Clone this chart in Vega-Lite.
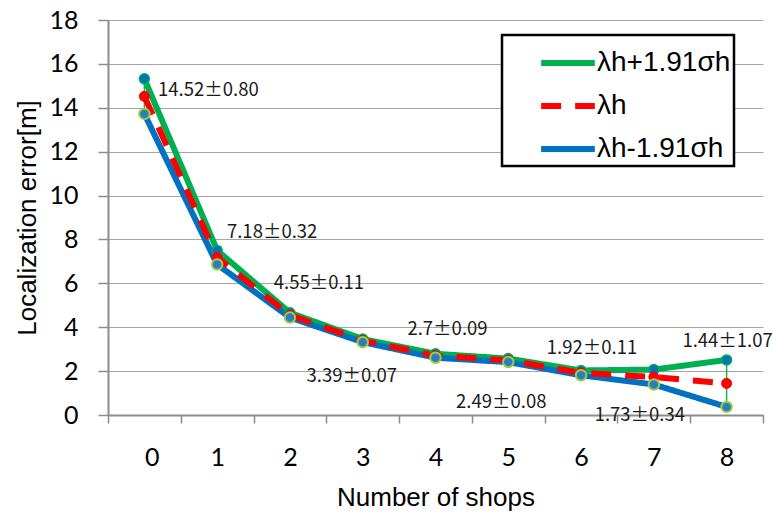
{
  "$schema": "https://vega.github.io/schema/vega-lite/v6.json",
  "width": 655,
  "height": 395,
  "autosize": "none",
  "padding": {"left": 108, "top": 20, "right": 10, "bottom": 98},
  "background": "white",
  "datasets": {
    "lines": [
      {"shops": 0, "series": "λh+1.91σh", "value": 15.32},
      {"shops": 1, "series": "λh+1.91σh", "value": 7.50},
      {"shops": 2, "series": "λh+1.91σh", "value": 4.66},
      {"shops": 3, "series": "λh+1.91σh", "value": 3.46},
      {"shops": 4, "series": "λh+1.91σh", "value": 2.79},
      {"shops": 5, "series": "λh+1.91σh", "value": 2.57},
      {"shops": 6, "series": "λh+1.91σh", "value": 2.03},
      {"shops": 7, "series": "λh+1.91σh", "value": 2.07},
      {"shops": 8, "series": "λh+1.91σh", "value": 2.51},
      {"shops": 0, "series": "λh-1.91σh", "value": 13.72},
      {"shops": 1, "series": "λh-1.91σh", "value": 6.86},
      {"shops": 2, "series": "λh-1.91σh", "value": 4.44},
      {"shops": 3, "series": "λh-1.91σh", "value": 3.32},
      {"shops": 4, "series": "λh-1.91σh", "value": 2.61},
      {"shops": 5, "series": "λh-1.91σh", "value": 2.41},
      {"shops": 6, "series": "λh-1.91σh", "value": 1.81},
      {"shops": 7, "series": "λh-1.91σh", "value": 1.39},
      {"shops": 8, "series": "λh-1.91σh", "value": 0.37},
      {"shops": 0, "series": "λh", "value": 14.52},
      {"shops": 1, "series": "λh", "value": 7.18},
      {"shops": 2, "series": "λh", "value": 4.55},
      {"shops": 3, "series": "λh", "value": 3.39},
      {"shops": 4, "series": "λh", "value": 2.70},
      {"shops": 5, "series": "λh", "value": 2.49},
      {"shops": 6, "series": "λh", "value": 1.92},
      {"shops": 7, "series": "λh", "value": 1.73},
      {"shops": 8, "series": "λh", "value": 1.44}
    ],
    "stats": [
      {"shops": 0, "mean": 14.52, "lower": 13.72, "upper": 15.32, "label": "14.52±0.80"},
      {"shops": 1, "mean": 7.18, "lower": 6.86, "upper": 7.50, "label": "7.18±0.32"},
      {"shops": 2, "mean": 4.55, "lower": 4.44, "upper": 4.66, "label": "4.55±0.11"},
      {"shops": 3, "mean": 3.39, "lower": 3.32, "upper": 3.46, "label": "3.39±0.07"},
      {"shops": 4, "mean": 2.70, "lower": 2.61, "upper": 2.79, "label": "2.7±0.09"},
      {"shops": 5, "mean": 2.49, "lower": 2.41, "upper": 2.57, "label": "2.49±0.08"},
      {"shops": 6, "mean": 1.92, "lower": 1.81, "upper": 2.03, "label": "1.92±0.11"},
      {"shops": 7, "mean": 1.73, "lower": 1.39, "upper": 2.07, "label": "1.73±0.34"},
      {"shops": 8, "mean": 1.44, "lower": 0.37, "upper": 2.51, "label": "1.44±1.07"}
    ]
  },
  "encoding": {
    "x": {
      "field": "shops",
      "type": "quantitative",
      "scale": {"domain": [-0.5, 8.5], "nice": false, "zero": false},
      "axis": {
        "title": "Number of shops",
        "values": [-0.5, 0.5, 1.5, 2.5, 3.5, 4.5, 5.5, 6.5, 7.5, 8.5],
        "labelExpr": "datum.value > 8 ? '' : format(datum.value + 0.5, 'd')",
        "labelOffset": 36.4,
        "grid": false,
        "tickSize": 8,
        "labelPadding": 22,
        "titlePadding": 14
      }
    }
  },
  "layer": [
    {
      "data": {"name": "stats"},
      "mark": {"type": "rule", "color": "#1fb14a", "strokeWidth": 1.5},
      "encoding": {
        "y": {
          "field": "lower",
          "type": "quantitative",
          "scale": {"domain": [0, 18], "nice": false},
          "axis": {
            "title": "Localization error[m]",
            "values": [0, 2, 4, 6, 8, 10, 12, 14, 16, 18],
            "grid": true,
            "tickSize": 10,
            "labelPadding": 20,
            "titlePadding": 8
          }
        },
        "y2": {"field": "upper"}
      }
    },
    {
      "data": {"name": "lines"},
      "mark": {"type": "line", "strokeWidth": 6, "strokeCap": "butt"},
      "encoding": {
        "y": {"field": "value", "type": "quantitative"},
        "color": {
          "field": "series",
          "type": "nominal",
          "sort": ["λh+1.91σh", "λh", "λh-1.91σh"],
          "scale": {"domain": ["λh+1.91σh", "λh", "λh-1.91σh"], "range": ["#00b050", "#ff0000", "#0070c0"]},
          "legend": {
            "title": null,
            "orient": "none",
            "legendX": 394,
            "legendY": 15,
            "symbolType": "M-1.22,0H1.22",
            "symbolSize": 1936,
            "symbolStrokeWidth": 6,
            "symbolOffset": 38,
            "labelOffset": 4,
            "labelFontSize": 28,
            "labelFont": "Liberation Sans",
            "labelColor": "#000000",
            "labelExpr": "datum.label + '\u00a0\u00a0\u00a0\u00a0\u00a0\u00a0\u00a0'",
            "rowPadding": 4,
            "padding": 3,
            "strokeColor": "#000000",
            "fillColor": "#ffffff",
            "labelLimit": 300
          }
        },
        "strokeDash": {
          "field": "series",
          "type": "nominal",
          "scale": {"domain": ["λh+1.91σh", "λh", "λh-1.91σh"], "range": [[1, 0], [20, 14], [1, 0]]},
          "legend": null
        },
        "order": {"field": "shops", "type": "quantitative"}
      }
    },
    {
      "data": {"name": "lines"},
      "transform": [{"filter": "datum.series === 'λh+1.91σh'"}],
      "mark": {"type": "point", "shape": "circle", "filled": true, "size": 100, "fill": "#0070c0", "stroke": "#00b050", "strokeWidth": 1.5, "opacity": 1},
      "encoding": {"y": {"field": "value", "type": "quantitative"}}
    },
    {
      "data": {"name": "lines"},
      "transform": [{"filter": "datum.series === 'λh'"}],
      "mark": {"type": "point", "shape": "circle", "filled": true, "size": 100, "fill": "#ff0000", "stroke": "#ff0000", "strokeWidth": 1, "opacity": 1},
      "encoding": {"y": {"field": "value", "type": "quantitative"}}
    },
    {
      "data": {"name": "lines"},
      "transform": [{"filter": "datum.series === 'λh-1.91σh'"}],
      "mark": {"type": "point", "shape": "circle", "filled": true, "size": 110, "fill": "#2a7dc2", "stroke": "#9bcf3f", "strokeWidth": 2, "opacity": 1},
      "encoding": {"y": {"field": "value", "type": "quantitative"}}
    },
    {"data": {"name": "stats"}, "transform": [{"filter": "datum.shops === 0"}], "mark": {"type": "text", "dx": 64, "dy": -6}, "encoding": {"y": {"field": "mean", "type": "quantitative"}, "text": {"field": "label"}}},
    {"data": {"name": "stats"}, "transform": [{"filter": "datum.shops === 1"}], "mark": {"type": "text", "dx": 55, "dy": -25}, "encoding": {"y": {"field": "mean", "type": "quantitative"}, "text": {"field": "label"}}},
    {"data": {"name": "stats"}, "transform": [{"filter": "datum.shops === 2"}], "mark": {"type": "text", "dx": 29, "dy": -32}, "encoding": {"y": {"field": "mean", "type": "quantitative"}, "text": {"field": "label"}}},
    {"data": {"name": "stats"}, "transform": [{"filter": "datum.shops === 3"}], "mark": {"type": "text", "dx": -11, "dy": 35}, "encoding": {"y": {"field": "mean", "type": "quantitative"}, "text": {"field": "label"}}},
    {"data": {"name": "stats"}, "transform": [{"filter": "datum.shops === 4"}], "mark": {"type": "text", "dx": 12, "dy": -27}, "encoding": {"y": {"field": "mean", "type": "quantitative"}, "text": {"field": "label"}}},
    {"data": {"name": "stats"}, "transform": [{"filter": "datum.shops === 5"}], "mark": {"type": "text", "dx": -7, "dy": 42}, "encoding": {"y": {"field": "mean", "type": "quantitative"}, "text": {"field": "label"}}},
    {"data": {"name": "stats"}, "transform": [{"filter": "datum.shops === 6"}], "mark": {"type": "text", "dx": 11, "dy": -25}, "encoding": {"y": {"field": "mean", "type": "quantitative"}, "text": {"field": "label"}}},
    {"data": {"name": "stats"}, "transform": [{"filter": "datum.shops === 7"}], "mark": {"type": "text", "dx": -14, "dy": 38}, "encoding": {"y": {"field": "mean", "type": "quantitative"}, "text": {"field": "label"}}},
    {"data": {"name": "stats"}, "transform": [{"filter": "datum.shops === 8"}], "mark": {"type": "text", "dx": 1, "dy": -42}, "encoding": {"y": {"field": "mean", "type": "quantitative"}, "text": {"field": "label"}}}
  ],
  "config": {
    "view": {"stroke": null},
    "legend": {"strokeWidth": 2.5},
    "text": {"font": "Noto Sans CJK JP", "fontSize": 18.5, "color": "#1a1a1a", "align": "center", "baseline": "middle"},
    "axis": {
      "domainColor": "#8c8c8c",
      "domainWidth": 2,
      "tickColor": "#8c8c8c",
      "tickWidth": 1.5,
      "gridColor": "#a6a6a6",
      "gridWidth": 1.2,
      "labelFont": "Lato",
      "labelFontSize": 25,
      "labelColor": "#000000",
      "titleFont": "Liberation Sans",
      "titleFontSize": 26,
      "titleFontWeight": "normal",
      "titleColor": "#000000"
    }
  }
}
